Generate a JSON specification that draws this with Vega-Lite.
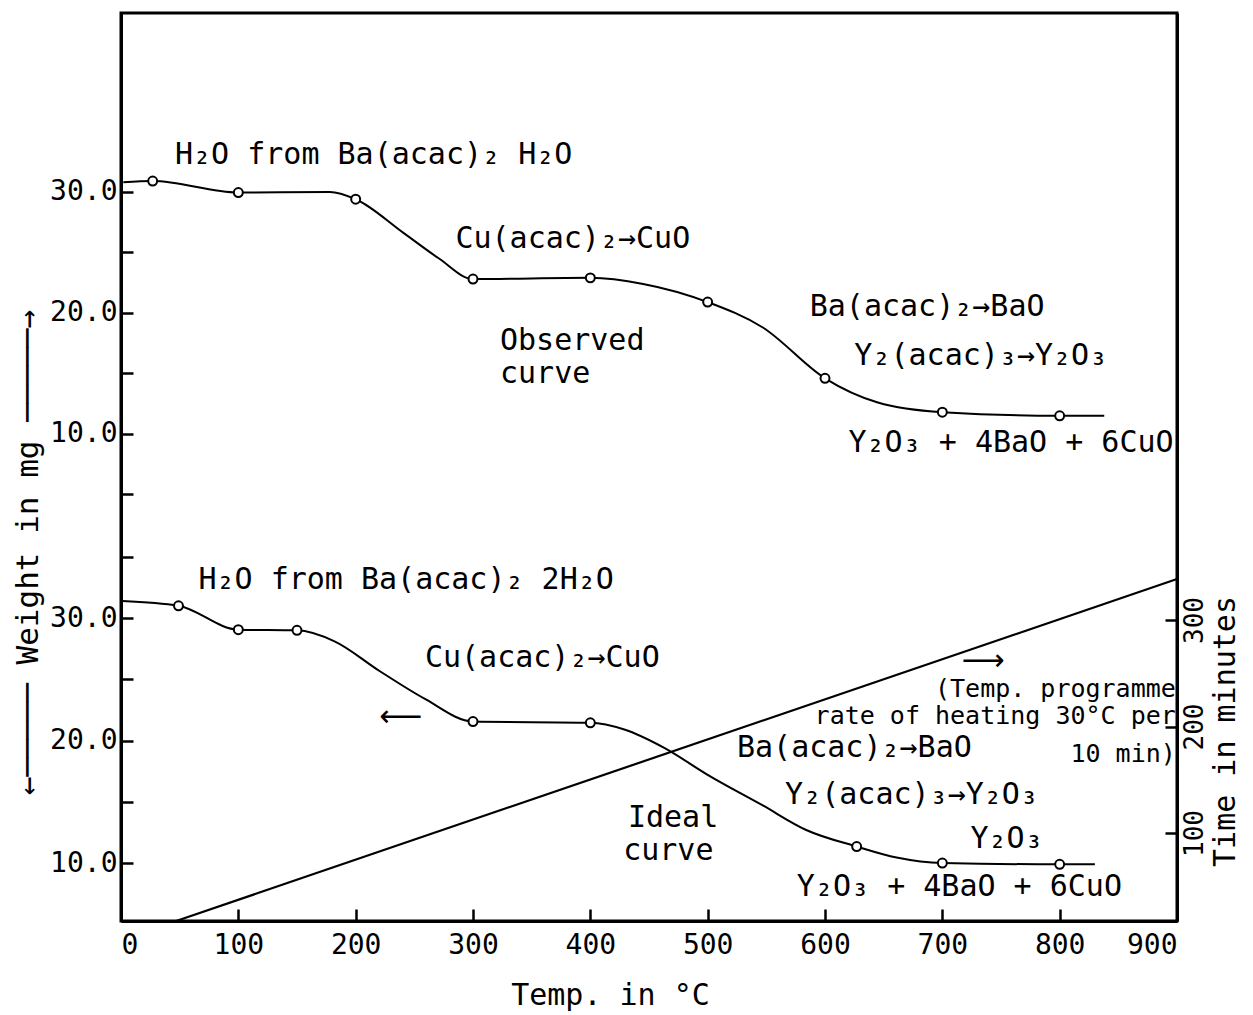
{
  "$schema": "https://vega.github.io/schema/vega-lite/v6.json",
  "width": 1056,
  "height": 908,
  "autosize": {"type": "none"},
  "padding": {"left": 121, "top": 13, "right": 76, "bottom": 94},
  "background": "white",
  "config": {
    "view": {"stroke": "black", "strokeWidth": 3},
    "font": "DejaVu Sans Mono",
    "axis": {
      "domainColor": "black", "domainWidth": 3, "tickColor": "black", "tickWidth": 2.5, "tickSize": -12,
      "labelColor": "black", "labelFont": "DejaVu Sans Mono", "labelFontSize": 28,
      "titleColor": "black", "titleFont": "DejaVu Sans Mono", "titleFontSize": 31, "titleFontWeight": "normal", "grid": false
    },
    "text": {"font": "DejaVu Sans Mono", "fontSize": 30, "color": "black"}
  },
  "datasets": {
    "observed": [
      {"T": 2, "W": 30.8, "kind": "curve"},
      {"T": 27, "W": 30.9, "kind": "circle"},
      {"T": 100, "W": 29.95, "kind": "circle"},
      {"T": 178, "W": 30.0, "kind": "curve"},
      {"T": 200, "W": 29.4, "kind": "circle"},
      {"T": 241, "W": 26.6, "kind": "curve"},
      {"T": 271, "W": 24.5, "kind": "curve"},
      {"T": 300, "W": 22.8, "kind": "circle"},
      {"T": 400, "W": 22.9, "kind": "circle"},
      {"T": 445, "W": 22.4, "kind": "curve"},
      {"T": 500, "W": 20.9, "kind": "circle"},
      {"T": 547, "W": 18.8, "kind": "curve"},
      {"T": 600, "W": 14.6, "kind": "circle"},
      {"T": 645, "W": 12.6, "kind": "curve"},
      {"T": 700, "W": 11.8, "kind": "circle"},
      {"T": 800, "W": 11.5, "kind": "circle"},
      {"T": 838, "W": 11.5, "kind": "curve"}
    ],
    "ideal": [
      {"T": 1, "W": 31.4, "kind": "curve"},
      {"T": 49, "W": 31.0, "kind": "circle"},
      {"T": 100, "W": 29.05, "kind": "circle"},
      {"T": 150, "W": 29.0, "kind": "circle"},
      {"T": 182, "W": 28.1, "kind": "curve"},
      {"T": 220, "W": 25.7, "kind": "curve"},
      {"T": 259, "W": 23.4, "kind": "curve"},
      {"T": 300, "W": 21.55, "kind": "circle"},
      {"T": 400, "W": 21.45, "kind": "circle"},
      {"T": 429, "W": 20.9, "kind": "curve"},
      {"T": 463, "W": 19.4, "kind": "curve"},
      {"T": 500, "W": 17.2, "kind": "curve"},
      {"T": 547, "W": 14.7, "kind": "curve"},
      {"T": 584, "W": 12.7, "kind": "curve"},
      {"T": 627, "W": 11.35, "kind": "circle"},
      {"T": 661, "W": 10.45, "kind": "curve"},
      {"T": 700, "W": 10.0, "kind": "circle"},
      {"T": 800, "W": 9.9, "kind": "circle"},
      {"T": 830, "W": 9.9, "kind": "curve"}
    ],
    "time": [
      {"T": 47, "t": 17.4},
      {"T": 900, "t": 338.5}
    ],
    "observedNotes": [
      {"T": 46, "W": 32.3, "label": "H₂O from Ba(acac)₂ H₂O"},
      {"T": 285, "W": 25.4, "label": "Cu(acac)₂→CuO"},
      {"T": 323, "W": 16.94, "label": "Observed"},
      {"T": 323, "W": 14.2, "label": "curve"},
      {"T": 587, "W": 19.75, "label": "Ba(acac)₂→BaO"},
      {"T": 625, "W": 15.7, "label": "Y₂(acac)₃→Y₂O₃"},
      {"T": 620, "W": 8.5, "label": "Y₂O₃ + 4BaO + 6CuO"}
    ],
    "idealNotes": [
      {"T": 66, "W": 32.35, "label": "H₂O from Ba(acac)₂ 2H₂O"},
      {"T": 259, "W": 26.0, "label": "Cu(acac)₂→CuO"},
      {"T": 525, "W": 18.65, "label": "Ba(acac)₂→BaO"},
      {"T": 566, "W": 14.8, "label": "Y₂(acac)₃→Y₂O₃"},
      {"T": 432, "W": 12.94, "label": "Ideal"},
      {"T": 428, "W": 10.24, "label": "curve"},
      {"T": 724, "W": 11.2, "label": "Y₂O₃"},
      {"T": 576, "W": 7.3, "label": "Y₂O₃ + 4BaO + 6CuO"}
    ],
    "programmeNotes": [
      {"T": 899, "W": 23.55, "label": "(Temp. programme"},
      {"T": 899, "W": 21.35, "label": "rate of heating 30°C per"},
      {"T": 899, "W": 18.25, "label": "10 min)"}
    ],
    "arrows": [
      {"T": 238.6, "W": 21.9, "label": "⟵"},
      {"T": 734.7, "W": 26.5, "label": "⟶"}
    ]
  },
  "encoding": {
    "x": {
      "field": "T", "type": "quantitative",
      "scale": {"domain": [0, 900], "nice": false, "zero": false},
      "axis": {
        "values": [0, 100, 200, 300, 400, 500, 600, 700, 800, 900],
        "format": "d",
        "labelPadding": 22,
        "labelFontSize": 28,
        "title": "Temp. in °C",
        "titleX": 489, "titleY": 74, "titleAlign": "center", "titleBaseline": "middle", "titleFontSize": 30
      }
    }
  },
  "layer": [
    {
      "encoding": {
        "y": {
          "field": "W", "type": "quantitative",
          "scale": {"domain": [-30.25, 44.79], "nice": false, "zero": false},
          "axis": {
            "orient": "left",
            "values": [5, 10, 15, 20, 25, 30],
            "labelExpr": "datum.value % 10 === 0 ? format(datum.value, '.1f') : ''",
            "labelPadding": 16,
            "labelFontSize": 28,
            "title": "←─────  Weight in mg  ─────→",
            "titleAngle": 270, "titleX": -93, "titleY": 539, "titleAlign": "center", "titleBaseline": "middle"
          }
        }
      },
      "layer": [
        {"data": {"name": "observed"}, "mark": {"type": "line", "interpolate": "monotone", "color": "black", "strokeWidth": 2}},
        {"data": {"name": "observed"}, "transform": [{"filter": "datum.kind === 'circle'"}],
         "mark": {"type": "point", "shape": "circle", "size": 80, "filled": true, "fill": "white", "stroke": "black", "strokeWidth": 2, "opacity": 1}},
        {"data": {"name": "observedNotes"}, "mark": {"type": "text", "align": "left", "baseline": "alphabetic"},
         "encoding": {"text": {"field": "label"}}}
      ]
    },
    {
      "encoding": {
        "y": {
          "field": "W", "type": "quantitative",
          "scale": {"domain": [5.27, 79.39], "nice": false, "zero": false},
          "axis": {
            "orient": "left",
            "values": [10, 15, 20, 25, 30, 35],
            "labelExpr": "datum.value % 10 === 0 ? format(datum.value, '.1f') : ''",
            "labelPadding": 16,
            "labelFontSize": 28,
            "domain": false,
            "title": null
          }
        }
      },
      "layer": [
        {"data": {"name": "ideal"}, "mark": {"type": "line", "interpolate": "monotone", "color": "black", "strokeWidth": 2}},
        {"data": {"name": "ideal"}, "transform": [{"filter": "datum.kind === 'circle'"}],
         "mark": {"type": "point", "shape": "circle", "size": 80, "filled": true, "fill": "white", "stroke": "black", "strokeWidth": 2, "opacity": 1}},
        {"data": {"name": "idealNotes"}, "mark": {"type": "text", "align": "left", "baseline": "alphabetic"},
         "encoding": {"text": {"field": "label"}}},
        {"data": {"name": "programmeNotes"}, "mark": {"type": "text", "align": "right", "baseline": "alphabetic", "fontSize": 25},
         "encoding": {"text": {"field": "label"}}},
        {"data": {"name": "arrows"}, "mark": {"type": "text", "align": "center", "baseline": "middle", "font": "DejaVu Sans", "fontSize": 30},
         "encoding": {"text": {"field": "label"}}}
      ]
    },
    {
      "data": {"name": "time"},
      "mark": {"type": "line", "color": "black", "strokeWidth": 2.2},
      "encoding": {
        "y": {
          "field": "t", "type": "quantitative",
          "scale": {"domain": [17.4, 870], "nice": false, "zero": false},
          "axis": {
            "orient": "right",
            "values": [100, 200, 300],
            "labelAngle": 270, "labelAlign": "center", "labelBaseline": "top",
            "labelPadding": 16, "labelFontSize": 26,
            "title": "Time in minutes",
            "titleAngle": 270, "titleX": 48, "titleY": 718, "titleAlign": "center", "titleBaseline": "middle", "titleFontSize": 30
          }
        }
      }
    }
  ],
  "resolve": {"scale": {"y": "independent"}, "axis": {"y": "independent"}}
}
